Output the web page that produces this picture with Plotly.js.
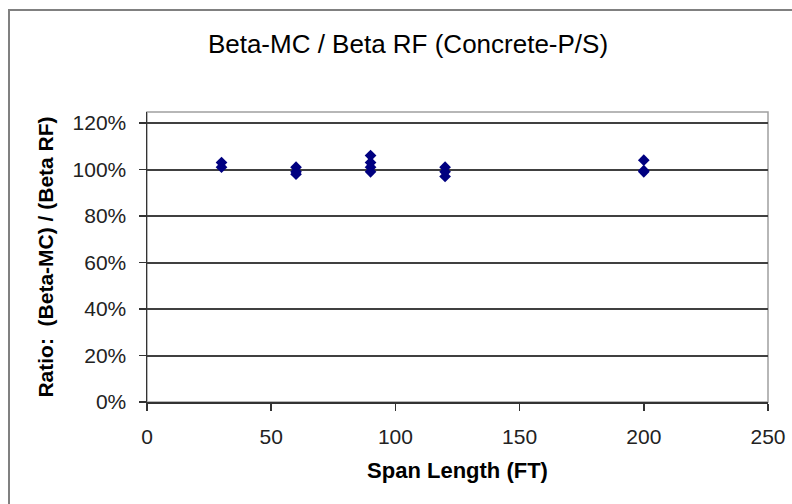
<!DOCTYPE html>
<html>
<head>
<meta charset="utf-8">
<script src="https://cdn.plot.ly/plotly-3.0.1.min.js"></script>
<style>
html,body{margin:0;padding:0;background:#fff;}
#chart{width:792px;height:504px;}
</style>
</head>
<body>
<div id="chart"></div>
<script>
const spanLength = [30, 30, 60, 60, 60, 90, 90, 90, 90, 120, 120, 120, 200, 200, 200];
const ratio = [1.03, 1.01, 1.01, 0.99, 0.98, 1.06, 1.03, 1.01, 0.99, 1.01, 0.99, 0.97, 1.04, 0.995, 0.99];
const yTickVals = [0, 0.2, 0.4, 0.6, 0.8, 1.0, 1.2];
const yTickText = ['0%', '20%', '40%', '60%', '80%', '100%', '120%'];
const xTickVals = [0, 50, 100, 150, 200, 250];

const font = 'Liberation Sans, Arial, sans-serif';

const trace = {
  x: spanLength,
  y: ratio,
  type: 'scatter',
  mode: 'markers',
  marker: {symbol: 'diamond', size: 9, color: '#000080', line: {width: 0}},
  cliponaxis: false,
  hoverinfo: 'x+y'
};

const L = 147, R = 768, T = 112, B = 402;
const W = R - L, H = B - T;

const layout = {
  width: 792, height: 504,
  margin: {l: L, r: 792 - R, t: T, b: 504 - B},
  paper_bgcolor: '#ffffff',
  plot_bgcolor: '#ffffff',
  showlegend: false,
  title: {
    text: 'Beta-MC / Beta RF (Concrete-P/S)',
    font: {family: font, size: 26, color: '#000000'},
    x: 408 / 792, xanchor: 'center',
    y: 1 - 44 / 504, yanchor: 'middle'
  },
  xaxis: {
    range: [0, 250],
    tickvals: xTickVals,
    ticks: 'outside', ticklen: 7, tickwidth: 1.5, tickcolor: '#333333',
    ticklabelstandoff: 8,
    showline: true, linecolor: '#333333', linewidth: 1.5,
    showgrid: false, zeroline: false,
    tickfont: {family: font, size: 21, color: '#222222'},
    title: {text: '<b>Span Length (FT)</b>', font: {family: font, size: 22, color: '#000000'}, standoff: 16},
    fixedrange: true
  },
  yaxis: {
    range: [0, 1.2 * (H) / (B - 123)],
    tickvals: yTickVals,
    ticktext: yTickText,
    ticks: 'outside', ticklen: 7, tickwidth: 1.5, tickcolor: '#333333',
    ticklabelstandoff: 8,
    showline: true, linecolor: '#333333', linewidth: 1.5,
    showgrid: true, gridcolor: '#404040', gridwidth: 2,
    zeroline: false,
    tickfont: {family: font, size: 21, color: '#222222'},
    title: {text: '<b>Ratio:  (Beta-MC) / (Beta RF)</b>', font: {family: font, size: 21, color: '#000000'}, standoff: 13},
    fixedrange: true
  },
  shapes: [
    {type: 'rect', xref: 'paper', yref: 'paper', x0: 0, x1: 1, y0: 0, y1: 1,
     line: {color: '#a0a0a0', width: 1.5}, layer: 'below'},
    {type: 'rect', xref: 'paper', yref: 'paper',
     x0: (9 - L) / W, x1: (820 - L) / W, y0: (B - 540) / H, y1: (B - 10) / H,
     line: {color: '#808080', width: 2}, layer: 'below'}
  ]
};

Plotly.newPlot('chart', [trace], layout, {displayModeBar: false, staticPlot: true});
</script>
</body>
</html>
